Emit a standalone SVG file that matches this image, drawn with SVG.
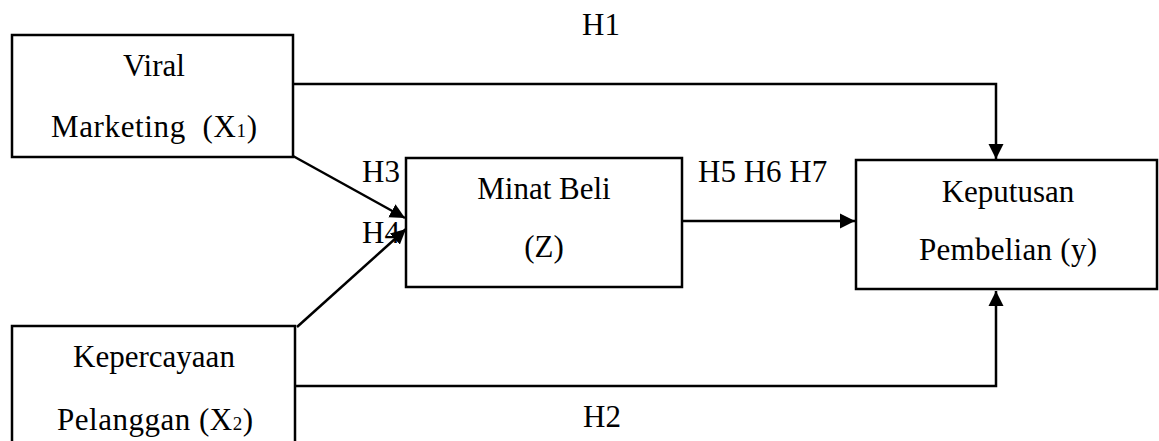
<svg xmlns="http://www.w3.org/2000/svg" width="1159" height="441" viewBox="0 0 1159 441">
<style>
.box{fill:#fff;stroke:#000;stroke-width:2.5}
.t{font-family:"Liberation Serif","Times New Roman",serif;font-size:31px;fill:#000}
.m{text-anchor:middle}
.c{fill:none;stroke:#000;stroke-width:2.5}
</style>
<defs>
<marker id="ah" markerUnits="userSpaceOnUse" markerWidth="16" markerHeight="16" viewBox="0 0 16 16" refX="15" refY="8" orient="auto">
<path d="M0,0.5 L15,8 L0,15.5 Z" fill="#000"/>
</marker>
</defs>
<rect width="1159" height="441" fill="#fff"/>
<g id="connectors">
<path class="c" d="M293,84 H996 V159" marker-end="url(#ah)"/>
<path class="c" d="M295,386 H996 V291" marker-end="url(#ah)"/>
<path class="c" d="M682,221 H855" marker-end="url(#ah)"/>
<path class="c" d="M293,156 L405,218" marker-end="url(#ah)"/>
<path class="c" d="M297,327 L406,229" marker-end="url(#ah)"/>
</g>
<g id="node-viral">
<rect class="box" x="12" y="35" width="281" height="122"/>
<text class="t m" x="154" y="76">Viral</text>
<text class="t m" x="154" y="137" textLength="206" lengthAdjust="spacing" xml:space="preserve">Marketing  (X<tspan font-size="19">1</tspan>)</text>
</g>
<g id="node-minat">
<rect class="box" x="406" y="158" width="276" height="129"/>
<text class="t m" x="544" y="199">Minat Beli</text>
<text class="t m" x="544" y="257">(Z)</text>
</g>
<g id="node-keputusan">
<rect class="box" x="856" y="160" width="301" height="129"/>
<text class="t m" x="1008" y="202">Keputusan</text>
<text class="t m" x="1008" y="260" textLength="178" lengthAdjust="spacing">Pembelian (y)</text>
</g>
<g id="node-kepercayaan">
<rect class="box" x="12" y="326" width="283" height="125"/>
<text class="t m" x="154" y="367">Kepercayaan</text>
<text class="t m" x="155" y="430" textLength="196" lengthAdjust="spacing">Pelanggan (X<tspan font-size="19">2</tspan>)</text>
</g>
<g id="labels">
<text class="t m" x="601" y="35">H1</text>
<text class="t m" x="602" y="427">H2</text>
<text class="t" x="362" y="182">H3</text>
<text class="t" x="362" y="243">H4</text>
<text class="t" x="698" y="182">H5 H6 H7</text>
</g>
</svg>
